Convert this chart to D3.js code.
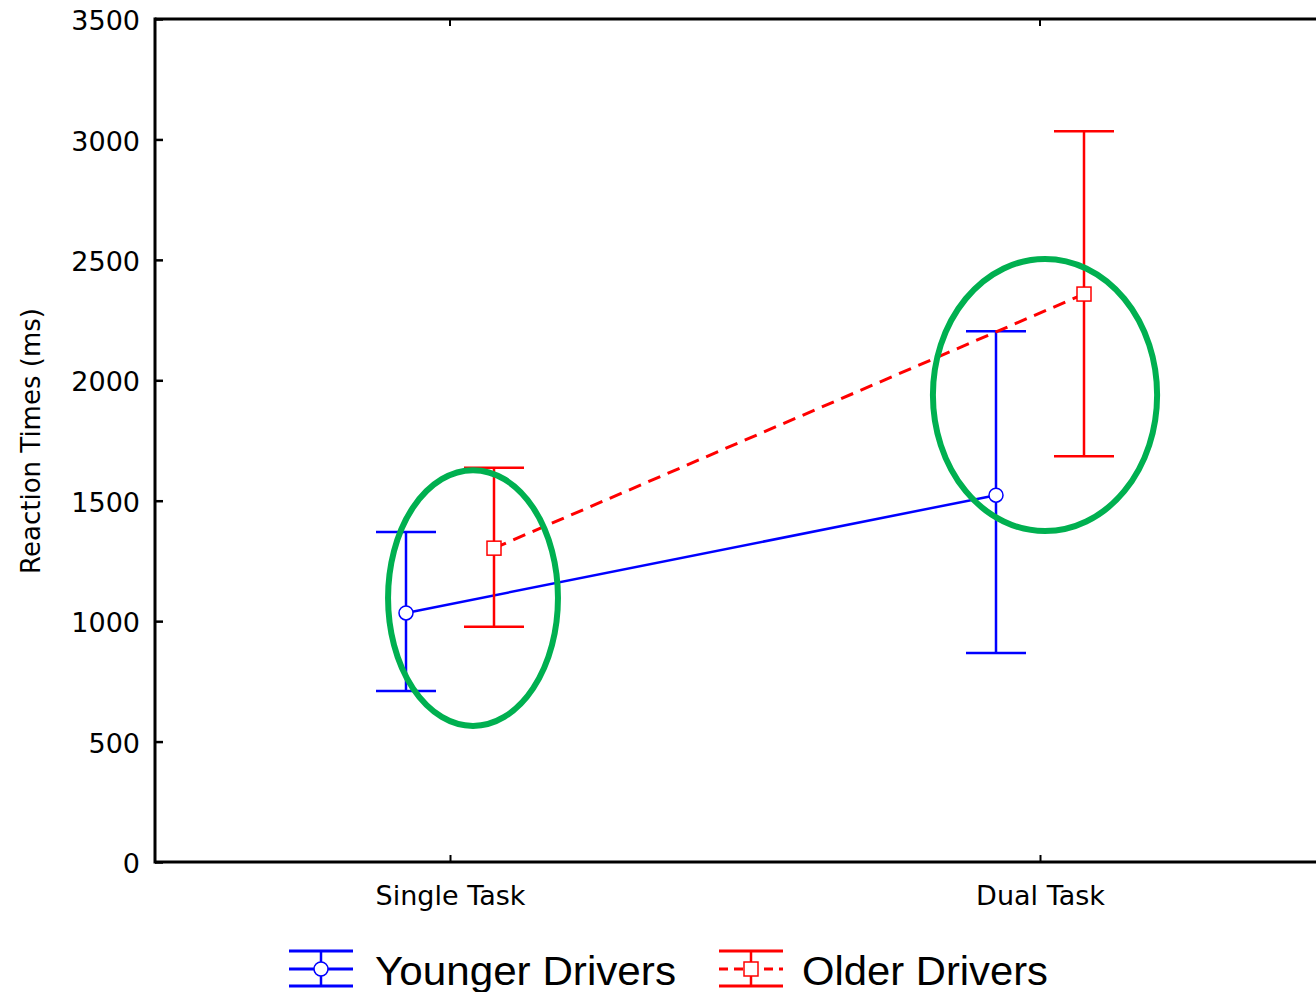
<!DOCTYPE html>
<html><head><meta charset="utf-8">
<script src="https://cdn.jsdelivr.net/npm/d3@7"></script>
<style>html,body{margin:0;padding:0;background:#fff;overflow:hidden}</style>
</head><body>
<svg id="chart" width="1316" height="992"></svg>
<script>
const categories = ["Single Task", "Dual Task"];
const seriesNames = ["Younger Drivers", "Older Drivers"];
const youngerMean = [1034, 1523];
const youngerUpper = [1370, 2204];
const youngerLower = [710, 868];
const olderMean = [1303, 2358];
const olderUpper = [1637, 3034];
const olderLower = [977, 1685];
const yTicks = [0, 500, 1000, 1500, 2000, 2500, 3000, 3500];
// annotation ellipses: centre (category index, ms), radii (index units, ms)
const ellipseCx = [0.039, 1.0085];
const ellipseCy = [1096, 1939];
const ellipseRx = [0.144, 0.19];
const ellipseRy = [531, 565];

(function () {
const svg = d3.select("#chart");
const pL = 155, pT = 19, pB = 862, pR = 1330;
const y = d3.scaleLinear().domain([0, 3500]).range([pB, pT]);
const xi = d3.scaleLinear().domain([0, 1]).range([450, 1040]);
const x = d3.scalePoint().domain(categories).range([450, 1040]);
const off = d3.scalePoint().domain(seriesNames).range([-44, 44]);

const series = [
  {name: seriesNames[0], mean: youngerMean, up: youngerUpper, lo: youngerLower, color: "#0000ff", dash: null, marker: "circle"},
  {name: seriesNames[1], mean: olderMean, up: olderUpper, lo: olderLower, color: "#ff0000", dash: "13,8", marker: "square"}
];

const g = svg.append("g");
g.append("line").attr("x1", pL).attr("x2", pR).attr("y1", pB).attr("y2", pB).attr("stroke", "#000").attr("stroke-width", 3);
g.append("line").attr("x1", pL).attr("x2", pR).attr("y1", pT).attr("y2", pT).attr("stroke", "#000").attr("stroke-width", 3);
g.append("line").attr("x1", pL).attr("x2", pL).attr("y1", pT - 1.5).attr("y2", pB + 1.5).attr("stroke", "#000").attr("stroke-width", 3);

const yAxis = d3.axisLeft(y).tickValues(yTicks).tickSize(0).tickPadding(15).tickFormat(d3.format("d"));
const ya = g.append("g").attr("transform", `translate(${pL},2)`).call(yAxis);
ya.select(".domain").remove();
ya.selectAll("text").attr("font-family", "DejaVu Sans").attr("font-size", 27).attr("fill", "#000");
ya.selectAll(".tick").append("line").attr("x1", 0).attr("x2", 8).attr("y1", -2).attr("y2", -2).attr("stroke", "#000").attr("stroke-width", 2.5);

const xAxis = d3.axisBottom(x).tickSize(0).tickPadding(24);
const xa = g.append("g").attr("transform", `translate(0,${pB})`).call(xAxis);
xa.select(".domain").remove();
xa.selectAll("text").attr("font-family", "DejaVu Sans").attr("font-size", 27).attr("fill", "#000");
xa.selectAll(".tick").append("line").attr("y1", 0).attr("y2", -7).attr("stroke", "#000").attr("stroke-width", 2);
g.selectAll(".ttick").data(categories).enter().append("line")
  .attr("x1", d => x(d)).attr("x2", d => x(d)).attr("y1", pT).attr("y2", pT + 7)
  .attr("stroke", "#000").attr("stroke-width", 2);

svg.append("text").attr("transform", `translate(40,441) rotate(-90)`)
  .attr("text-anchor", "middle").attr("font-family", "DejaVu Sans").attr("font-size", 26)
  .text("Reaction Times (ms)");

series.forEach(s => {
  const px = i => x(categories[i]) + off(s.name);
  const sg = svg.append("g");
  sg.append("path").datum(s.mean.map((v, i) => [px(i), y(v)]))
    .attr("d", d3.line()).attr("fill", "none").attr("stroke", s.color).attr("stroke-width", s.dash ? 3 : 2.5)
    .attr("stroke-dasharray", s.dash);
  s.mean.forEach((v, i) => {
    const cx = px(i);
    sg.append("line").attr("x1", cx).attr("x2", cx).attr("y1", y(s.up[i])).attr("y2", y(s.lo[i])).attr("stroke", s.color).attr("stroke-width", 2.5);
    [s.up[i], s.lo[i]].forEach(c => sg.append("line").attr("x1", cx - 30).attr("x2", cx + 30).attr("y1", y(c)).attr("y2", y(c)).attr("stroke", s.color).attr("stroke-width", 2.5));
    if (s.marker === "circle") sg.append("circle").attr("cx", cx).attr("cy", y(v)).attr("r", 7).attr("fill", "#fff").attr("stroke", s.color).attr("stroke-width", 1.5);
    else sg.append("rect").attr("x", cx - 7).attr("y", y(v) - 7).attr("width", 14).attr("height", 14).attr("fill", "#fff").attr("stroke", s.color).attr("stroke-width", 1.5);
  });
});

ellipseCx.forEach((c, i) => {
  svg.append("ellipse").attr("cx", xi(c)).attr("cy", y(ellipseCy[i]))
    .attr("rx", xi(ellipseRx[i]) - xi(0)).attr("ry", y(0) - y(ellipseRy[i]))
    .attr("fill", "none").attr("stroke", "#00b050").attr("stroke-width", 6);
});

const legX = [321, 751], legTextX = [375, 802];
series.forEach((s, i) => {
  const lg = svg.append("g").attr("transform", `translate(${legX[i]},969)`);
  [-18, 17].forEach(dy => lg.append("line").attr("x1", -32).attr("x2", 32).attr("y1", dy).attr("y2", dy).attr("stroke", s.color).attr("stroke-width", 3));
  lg.append("line").attr("x1", 0).attr("x2", 0).attr("y1", -18).attr("y2", 17).attr("stroke", s.color).attr("stroke-width", 2.5);
  lg.append("line").attr("x1", -32).attr("x2", 32).attr("y1", 0).attr("y2", 0).attr("stroke", s.color).attr("stroke-width", 3).attr("stroke-dasharray", s.dash ? "9,6" : null);
  if (s.marker === "circle") lg.append("circle").attr("r", 7).attr("fill", "#fff").attr("stroke", s.color).attr("stroke-width", 1.5);
  else lg.append("rect").attr("x", -7).attr("y", -7).attr("width", 14).attr("height", 14).attr("fill", "#fff").attr("stroke", s.color).attr("stroke-width", 1.5);
  svg.append("text").attr("x", legTextX[i]).attr("y", 985).attr("font-family", "Liberation Sans").attr("font-size", 40)
    .attr("textLength", i === 0 ? 301 : 246).attr("lengthAdjust", "spacingAndGlyphs").text(s.name);
});
})();
</script>
</body></html>
